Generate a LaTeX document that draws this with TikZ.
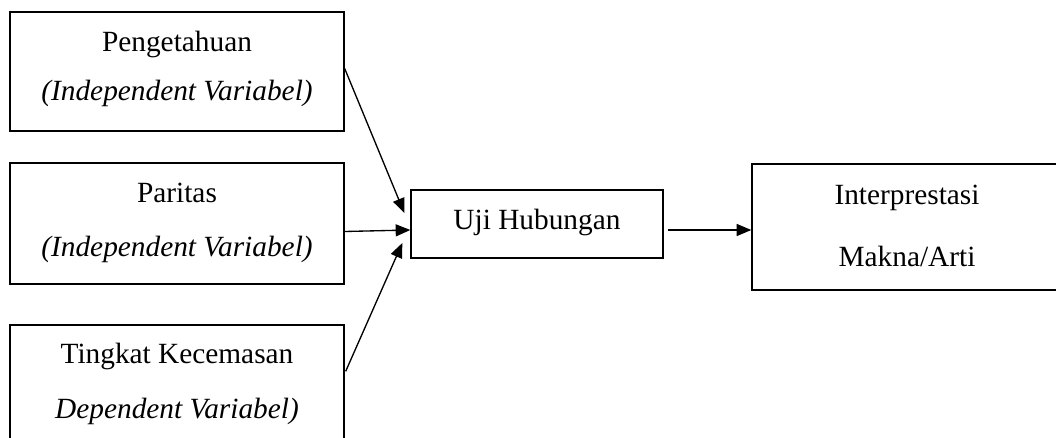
\documentclass[tikz,border=0pt]{standalone}
\usepackage{fontspec}
\setmainfont{Liberation Serif}
\usetikzlibrary{arrows.meta,calc}
\begin{document}
\begin{tikzpicture}[x=0.75pt,y=-0.75pt,
  box/.style={draw,line width=1pt,rectangle,inner sep=0pt},
  lbl/.style={anchor=base,inner sep=0pt,font=\fontsize{22pt}{26pt}\selectfont},
  arr/.style={line width=1pt,-{Triangle[length=11pt,width=9pt]}}]
\clip (0,0) rectangle (1056,438);
\node[box,minimum width=250.5pt,minimum height=89.25pt] (b1) at (177,71.5) {};
\node[box,minimum width=250.5pt,minimum height=90.75pt] (b2) at (177,223.5) {};
\node[box,minimum width=250.5pt,minimum height=97.5pt] (b3) at (177,390) {};
\node[box,minimum width=189pt,minimum height=51pt] (uji) at (537,224) {};
\node[box,minimum width=238.5pt,minimum height=94.5pt] (interp) at (911,227) {};
\node[lbl] (t1a) at (177,52) {Pengetahuan};
\node[lbl] (t1b) at (177,101) {\itshape (Independent Variabel)};
\node[lbl] (t2a) at (177,203) {Paritas};
\node[lbl] (t2b) at (177,257) {\itshape (Independent Variabel)};
\node[lbl] (t3a) at (177,363) {Tingkat Kecemasan};
\node[lbl] (t3b) at (177,418) {\itshape Dependent Variabel)};
\node[lbl] (t4) at (537,230) {Uji Hubungan};
\node[lbl] (t5a) at (907,205) {Interprestasi};
\node[lbl] (t5b) at (907,267) {Makna/Arti};
\draw[arr] ($(b1.east)+(0,-3)$) -- ($(uji.west)+(-6,-11)$);
\draw[arr] ($(b2.east)+(0,8)$) -- ($(uji.west)+(0,6)$);
\draw[arr] ($(b3.north east)+(1,47)$) -- ($(uji.west)+(-8,19)$);
\draw[arr] ($(uji.east)+(4,6)$) -- ($(interp.west)+(0,3)$);
\end{tikzpicture}
\end{document}
